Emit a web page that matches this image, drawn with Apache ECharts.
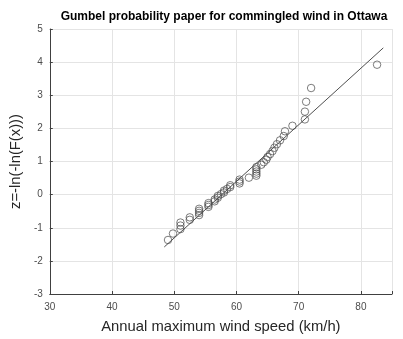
<!DOCTYPE html>
<html>
<head>
<meta charset="utf-8">
<script src="https://cdn.jsdelivr.net/npm/echarts@6/dist/echarts.min.js"></script>
<style>
  html, body { margin: 0; padding: 0; background: #ffffff; }
  #chart { width: 403px; height: 339px; }
</style>
</head>
<body>
<div id="chart"></div>
<script>
// Annual maximum wind speeds (km/h), sorted ascending
var windSpeed = [
  49.0, 49.8, 51.0, 51.0, 51.0, 52.5, 52.5, 54.0, 54.0, 54.0,
  54.0, 55.5, 55.5, 55.5, 56.5, 56.5, 57.0, 57.0, 57.5, 58.0,
  58.0, 58.5, 59.0, 59.0, 60.5, 60.5, 60.5, 62.0, 63.2, 63.2,
  63.2, 63.2, 63.2, 64.0, 64.4, 64.8, 65.0, 65.4, 65.8, 66.1,
  66.5, 67.0, 67.6, 67.8, 69.0, 71.0, 71.0, 71.2, 72.0, 82.6
];
// Reduced variate z = -ln(-ln(F)) for each ranked observation
var reducedZ = [
  -1.369, -1.175, -1.041, -0.934, -0.843, -0.761, -0.686, -0.617, -0.551, -0.488,
  -0.428, -0.369, -0.313, -0.257, -0.202, -0.148, -0.094, -0.041, 0.013, 0.066,
  0.120, 0.173, 0.228, 0.283, 0.338, 0.395, 0.453, 0.512, 0.572, 0.634,
  0.697, 0.763, 0.832, 0.903, 0.977, 1.055, 1.137, 1.223, 1.316, 1.415,
  1.522, 1.639, 1.768, 1.913, 2.078, 2.271, 2.505, 2.803, 3.218, 3.922
];
// Fitted Gumbel line endpoints
var fitX = [48.4, 83.6];
var fitZ = [-1.58, 4.43];

var xTicks = [30, 40, 50, 60, 70, 80];
var yTicks = [-3, -2, -1, 0, 1, 2, 3, 4, 5];

var pts = windSpeed.map(function (v, i) { return [v, reducedZ[i]]; });
var fitLine = fitX.map(function (v, i) { return [v, fitZ[i]]; });

var FONT = 'Liberation Sans, Arial, sans-serif';
var axisColor = '#404040';
var gridColor = '#e4e4e4';

var chart = echarts.init(document.getElementById('chart'), null, { renderer: 'canvas' });
chart.setOption({
  animation: false,
  backgroundColor: '#ffffff',
  title: {
    text: 'Gumbel probability paper for commingled wind in Ottawa',
    left: 219, top: 6, textAlign: 'center',
    textStyle: { fontFamily: FONT, fontSize: 12, fontWeight: 'bold', color: '#000' }
  },
  grid: { left: 45, right: 11, top: 29, bottom: 41 },
  xAxis: {
    type: 'value', min: 30, max: 85, interval: 10,
    name: 'Annual maximum wind speed (km/h)',
    nameLocation: 'middle', nameGap: 25,
    nameTextStyle: { fontFamily: FONT, fontSize: 14.8, color: '#262626' },
    axisLine: { show: true, onZero: false, lineStyle: { color: axisColor, width: 1 } },
    axisTick: { show: true, inside: true, length: 3, lineStyle: { color: axisColor } },
    axisLabel: {
      fontFamily: FONT, fontSize: 10, color: '#4d4d4d', margin: 8,
      formatter: function (v) { return xTicks.indexOf(v) >= 0 ? String(v) : ''; }
    },
    splitLine: { show: true, lineStyle: { color: gridColor, width: 1 } }
  },
  yAxis: {
    type: 'value', min: -3, max: 5, interval: 1,
    name: 'z=-ln(-ln(F(x)))',
    nameLocation: 'middle', nameGap: 16,
    nameTextStyle: { fontFamily: FONT, fontSize: 14.8, color: '#262626' },
    axisLine: { show: true, onZero: false, lineStyle: { color: axisColor, width: 1 } },
    axisTick: { show: true, inside: true, length: 3, lineStyle: { color: axisColor } },
    axisLabel: {
      fontFamily: FONT, fontSize: 10, color: '#4d4d4d', margin: 7,
      formatter: function (v) { return yTicks.indexOf(v) >= 0 ? String(v) : ''; }
    },
    splitLine: { show: true, lineStyle: { color: gridColor, width: 1 } }
  },
  series: [
    {
      type: 'line',
      data: fitLine,
      symbol: 'none',
      lineStyle: { color: '#3a3a3a', width: 0.9 },
      z: 2
    },
    {
      type: 'scatter',
      data: pts,
      symbol: 'circle',
      symbolSize: 7.5,
      itemStyle: { color: 'rgba(255,255,255,0)', borderColor: '#4a4a4a', borderWidth: 0.9 },
      z: 3
    }
  ]
});
</script>
</body>
</html>
